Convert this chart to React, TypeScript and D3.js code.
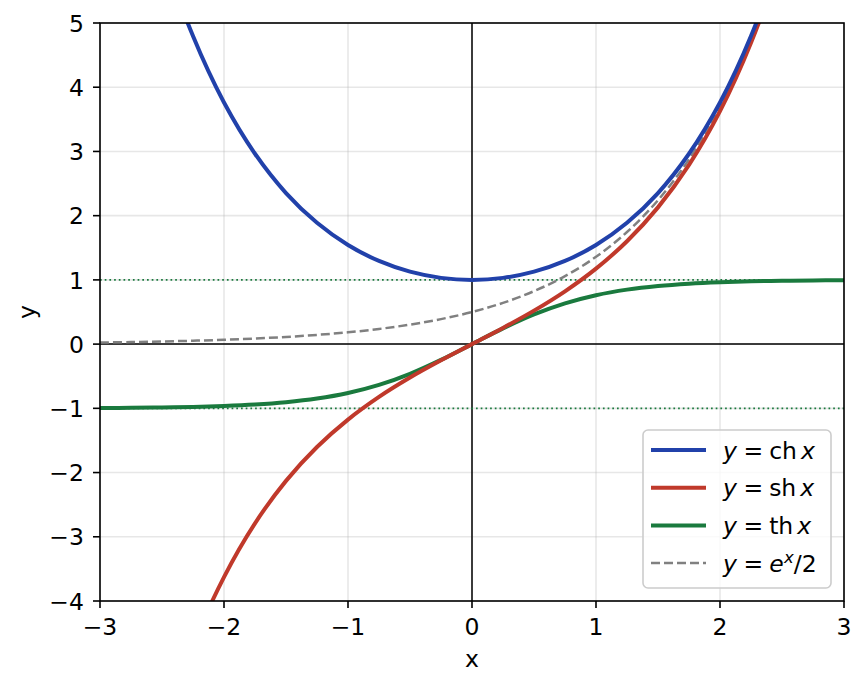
import React from 'react';
import * as d3 from 'd3';

const xValues = [-3, -2.75, -2.5, -2.25, -2, -1.75, -1.5, -1.25, -1, -0.75, -0.5, -0.25, 0, 0.25, 0.5, 0.75, 1, 1.25, 1.5, 1.75, 2, 2.25, 2.5, 2.75, 3];
const chValues = [10.0677, 7.8533, 6.1323, 4.7966, 3.7622, 2.9642, 2.3524, 1.8884, 1.5431, 1.2947, 1.1276, 1.0314, 1, 1.0314, 1.1276, 1.2947, 1.5431, 1.8884, 2.3524, 2.9642, 3.7622, 4.7966, 6.1323, 7.8533, 10.0677];
const shValues = [-10.0179, -7.7894, -6.0502, -4.6912, -3.6269, -2.7904, -2.1293, -1.6019, -1.1752, -0.8223, -0.5211, -0.2526, 0, 0.2526, 0.5211, 0.8223, 1.1752, 1.6019, 2.1293, 2.7904, 3.6269, 4.6912, 6.0502, 7.7894, 10.0179];
const thValues = [-0.9951, -0.9919, -0.9866, -0.978, -0.964, -0.9414, -0.9051, -0.8483, -0.7616, -0.6351, -0.4621, -0.2449, 0, 0.2449, 0.4621, 0.6351, 0.7616, 0.8483, 0.9051, 0.9414, 0.964, 0.978, 0.9866, 0.9919, 0.9951];
const halfExpValues = [0.0249, 0.032, 0.041, 0.0527, 0.0677, 0.0869, 0.1116, 0.1433, 0.1839, 0.2362, 0.3033, 0.3894, 0.5, 0.642, 0.8244, 1.0585, 1.3591, 1.7452, 2.2408, 2.8773, 3.6945, 4.7439, 6.0912, 7.8213, 10.0428];
const xTicks = [-3, -2, -1, 0, 1, 2, 3];
const yTicks = [-4, -3, -2, -1, 0, 1, 2, 3, 4, 5];
const refLines = [1, -1];

const W = 866, H = 689;
const L = 100, R = 844, T = 23, B = 601;
const FONT = 'DejaVu Sans';
const FS = 23.5;
const LFS = 23.5;

const x = d3.scaleLinear().domain([-3, 3]).range([L, R]);
const y = d3.scaleLinear().domain([-4, 5]).range([B, T]);

const fmt = (v: number) => (v < 0 ? '\u2212' + Math.abs(v) : String(v));

function linePath(vals: number[]) {
  const g = d3.line<number>().x((_, i) => x(xValues[i])).y((d) => y(d)).curve(d3.curveCatmullRom.alpha(0.5));
  return g(vals) || '';
}

const BLUE = '#2141aa', RED = '#c0392b', GREEN = '#1a7a3e', GRAY = '#808080';

export default function App() {
  const series = [
    { vals: halfExpValues, color: GRAY, w: 2.5, dash: '9 4' },
    { vals: thValues, color: GREEN, w: 4 },
    { vals: shValues, color: RED, w: 4 },
    { vals: chValues, color: BLUE, w: 4 },
  ];
  const legendItems = [
    { color: BLUE, w: 4, dash: undefined as string | undefined, fn: 'ch' },
    { color: RED, w: 4, dash: undefined, fn: 'sh' },
    { color: GREEN, w: 4, dash: undefined, fn: 'th' },
    { color: GRAY, w: 2.5, dash: '9 4', fn: 'exp' },
  ];
  const lx = 643, ly = 430, lw = 188, lh = 158;
  return (
    <svg width={W} height={H} style={{ position: 'absolute', left: 0, top: 0, background: '#fff' }} fontFamily={FONT}>
      <defs>
        <clipPath id="plotclip">
          <rect x={L} y={T} width={R - L} height={B - T} />
        </clipPath>
      </defs>
      <rect x={0} y={0} width={W} height={H} fill="#fff" />
      {/* grid */}
      {xTicks.map((t) => (
        <line key={'gx' + t} x1={x(t)} x2={x(t)} y1={T} y2={B} stroke="#b0b0b0" strokeOpacity={0.3} strokeWidth={1.6} />
      ))}
      {yTicks.map((t) => (
        <line key={'gy' + t} x1={L} x2={R} y1={y(t)} y2={y(t)} stroke="#b0b0b0" strokeOpacity={0.3} strokeWidth={1.6} />
      ))}
      {/* zero axes */}
      <line x1={x(0)} x2={x(0)} y1={T} y2={B} stroke="#000" strokeWidth={1.5} />
      <line x1={L} x2={R} y1={y(0)} y2={y(0)} stroke="#000" strokeWidth={1.5} />
      {/* reference dotted lines */}
      {refLines.map((v) => (
        <line key={'r' + v} x1={L} x2={R} y1={y(v)} y2={y(v)} stroke={GREEN} strokeWidth={1.6} strokeDasharray="1.7 3" />
      ))}
      <g clipPath="url(#plotclip)">
        {series.map((s, i) => (
          <path key={i} d={linePath(s.vals)} fill="none" stroke={s.color} strokeWidth={s.w} strokeDasharray={s.dash} strokeLinecap={s.dash ? 'butt' : 'square'} />
        ))}
      </g>
      {/* spines */}
      <rect x={L} y={T} width={R - L} height={B - T} fill="none" stroke="#000" strokeWidth={1.6} />
      {/* ticks */}
      {xTicks.map((t) => (
        <g key={'xt' + t}>
          <line x1={x(t)} x2={x(t)} y1={B} y2={B + 7} stroke="#000" strokeWidth={1.6} />
          <text x={x(t)} y={635} textAnchor="middle" fontSize={FS} fill="#000">{fmt(t)}</text>
        </g>
      ))}
      {yTicks.map((t) => (
        <g key={'yt' + t}>
          <line x1={L - 7} x2={L} y1={y(t)} y2={y(t)} stroke="#000" strokeWidth={1.6} />
          <text x={L - 16} y={y(t) + 8.7} textAnchor="end" fontSize={FS} fill="#000">{fmt(t)}</text>
        </g>
      ))}
      <text x={(L + R) / 2} y={667} textAnchor="middle" fontSize={FS} fill="#000">x</text>
      <text transform={`translate(35,${(T + B) / 2}) rotate(-90)`} textAnchor="middle" fontSize={FS} fill="#000">y</text>
      {/* legend */}
      <rect x={lx} y={ly} width={lw} height={lh} rx={5} ry={5} fill="#fff" fillOpacity={0.8} stroke="#cccccc" strokeWidth={1.6} />
      {legendItems.map((it, i) => {
        const cy = 450 + i * 37.7;
        return (
          <g key={'lg' + i}>
            <line x1={651} x2={706} y1={cy} y2={cy} stroke={it.color} strokeWidth={it.w} strokeDasharray={it.dash} />
            <text x={723} y={cy + 8.5} fontSize={LFS} fill="#000">
              <tspan fontStyle="italic">y</tspan>
              <tspan dx={6.5}>=</tspan>
              {it.fn === 'exp' ? (
                <>
                  <tspan dx={6} fontStyle="italic">e</tspan>
                  <tspan fontStyle="italic" fontSize={16.5} dy={-8.5} dx={0.5}>x</tspan>
                  <tspan dy={8.5}>/2</tspan>
                </>
              ) : (
                <>
                  <tspan dx={6}>{it.fn}</tspan>
                  <tspan dx={4} fontStyle="italic">x</tspan>
                </>
              )}
            </text>
          </g>
        );
      })}
    </svg>
  );
}
